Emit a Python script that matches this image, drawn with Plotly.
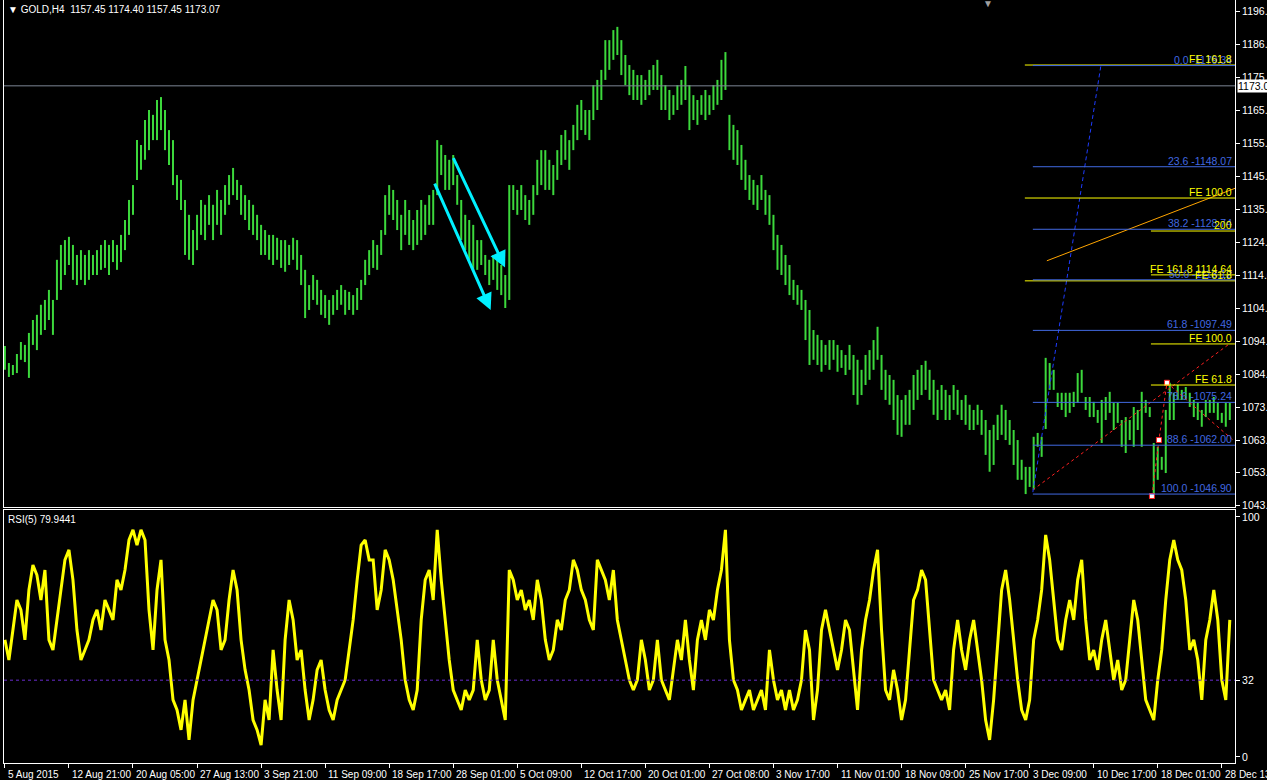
import plotly.graph_objects as go

# ---------------- data ----------------
# one reading every two 4-hour bars: high / low of the bar column
bar_high = [
    1092.7, 1087.4, 1086.8, 1090.2, 1093.9, 1093.0, 1096.7, 1100.7, 1102.3, 1105.4,
    1106.9, 1110.0, 1106.9, 1119.3, 1123.9, 1125.4, 1126.4, 1123.9, 1120.8, 1122.3,
    1120.8, 1122.3, 1120.8, 1122.3, 1123.9, 1125.4, 1123.9, 1125.4, 1123.9, 1127.0,
    1131.6, 1137.8, 1142.4, 1156.3, 1154.8, 1162.5, 1165.6, 1164.1, 1168.7, 1169.6,
    1165.6, 1159.4, 1156.3, 1145.5, 1144.0, 1137.8, 1133.2, 1128.5, 1133.2, 1137.8,
    1136.3, 1139.3, 1136.3, 1140.9, 1137.8, 1142.4, 1145.5, 1147.7, 1144.0, 1142.4,
    1139.3, 1137.8, 1136.3, 1133.2, 1130.1, 1128.5, 1127.0, 1127.0, 1126.1, 1125.4,
    1125.4, 1123.9, 1126.1, 1125.4, 1120.8, 1116.2, 1111.5, 1114.6, 1113.1, 1110.0,
    1108.4, 1106.9, 1108.4, 1110.0, 1111.5, 1110.0, 1109.4, 1108.4, 1110.6, 1113.1,
    1119.3, 1122.3, 1125.4, 1123.9, 1128.5, 1139.3, 1142.4, 1140.9, 1137.8, 1133.2,
    1137.8, 1134.7, 1131.6, 1134.7, 1137.8, 1136.3, 1139.3, 1140.9, 1156.3, 1154.8,
    1151.7, 1150.2, 1151.7, 1145.5, 1137.8, 1133.2, 1131.6, 1130.1, 1125.4, 1125.4,
    1120.8, 1119.3, 1120.8, 1119.3, 1117.7, 1114.6, 1142.4, 1142.4, 1140.9, 1142.4,
    1139.3, 1137.8, 1142.4, 1150.2, 1153.2, 1153.2, 1150.2, 1148.6, 1153.2, 1157.9,
    1159.4, 1156.3, 1161.0, 1167.2, 1168.7, 1165.6, 1165.6, 1173.3, 1174.9, 1178.0,
    1187.2, 1187.2, 1190.3, 1191.3, 1187.2, 1182.6, 1179.5, 1178.0, 1176.4, 1176.4,
    1174.9, 1178.0, 1179.5, 1181.1, 1176.4, 1173.3, 1171.8, 1170.2, 1173.3, 1174.9,
    1179.2, 1173.3, 1170.2, 1168.7, 1170.2, 1171.8, 1170.2, 1173.3, 1174.9, 1181.1,
    1183.5, 1164.1, 1161.0, 1159.4, 1154.8, 1150.2, 1145.5, 1144.0, 1142.4, 1145.5,
    1140.9, 1139.3, 1133.2, 1127.0, 1123.9, 1120.8, 1117.7, 1113.1, 1111.5, 1110.0,
    1106.9, 1103.8, 1097.6, 1096.1, 1094.5, 1093.0, 1094.5, 1094.5, 1093.0, 1091.4,
    1089.9, 1093.0, 1089.9, 1088.4, 1085.3, 1089.9, 1091.4, 1094.5, 1098.6, 1089.9,
    1085.3, 1083.7, 1082.2, 1077.5, 1076.0, 1077.5, 1079.1, 1083.7, 1085.3, 1086.8,
    1088.1, 1085.3, 1082.2, 1079.1, 1080.6, 1079.1, 1077.5, 1080.6, 1079.1, 1076.0,
    1077.5, 1074.5, 1072.9, 1074.5, 1072.9, 1069.8, 1066.7, 1068.3, 1071.4, 1074.5,
    1072.9, 1069.8, 1066.7, 1063.6, 1057.5, 1055.3, 1055.3, 1064.6, 1065.8, 1064.6,
    1089.0, 1087.4, 1085.3, 1078.2, 1078.2, 1078.2, 1078.2, 1078.5, 1084.3, 1085.3,
    1076.9, 1076.9, 1075.4, 1072.9, 1076.0, 1076.9, 1078.5, 1075.1, 1075.1, 1069.8,
    1070.7, 1069.8, 1073.8, 1072.9, 1078.5, 1076.0, 1073.8, 1062.7, 1061.5, 1058.4,
    1072.9, 1081.3, 1078.2, 1080.6, 1079.1, 1080.0, 1078.2, 1076.0, 1075.1, 1072.9,
    1076.0, 1076.0, 1076.9, 1075.1, 1072.0, 1075.1, 1075.1,
]
bar_low = [
    1085.3, 1083.1, 1083.7, 1084.3, 1088.4, 1087.7, 1082.8, 1093.0, 1091.4, 1096.1,
    1097.6, 1100.7, 1096.1, 1106.9, 1110.0, 1114.6, 1117.7, 1113.1, 1111.5, 1113.1,
    1111.5, 1113.1, 1114.6, 1114.6, 1116.2, 1116.8, 1114.6, 1118.6, 1116.2, 1118.6,
    1122.3, 1127.0, 1133.2, 1144.0, 1147.1, 1150.2, 1153.2, 1156.3, 1156.3, 1159.4,
    1153.2, 1148.6, 1142.4, 1137.8, 1134.7, 1120.8, 1119.3, 1117.7, 1122.3, 1127.0,
    1125.4, 1130.1, 1125.4, 1130.1, 1127.0, 1133.2, 1136.3, 1139.3, 1137.8, 1133.2,
    1131.6, 1128.5, 1127.0, 1125.4, 1120.8, 1120.8, 1119.3, 1117.7, 1119.3, 1116.8,
    1115.6, 1117.7, 1119.3, 1116.2, 1111.5, 1101.3, 1103.8, 1106.9, 1105.4, 1102.3,
    1101.3, 1099.2, 1102.3, 1103.8, 1105.4, 1102.3, 1103.8, 1102.3, 1103.8, 1106.9,
    1111.5, 1114.6, 1116.8, 1116.2, 1120.8, 1127.0, 1133.2, 1131.6, 1128.5, 1122.3,
    1127.0, 1123.9, 1122.3, 1123.9, 1125.4, 1127.0, 1130.1, 1130.1, 1139.3, 1145.5,
    1140.9, 1140.9, 1142.4, 1136.3, 1125.4, 1122.3, 1119.3, 1116.2, 1116.2, 1117.7,
    1114.6, 1111.5, 1113.1, 1110.0, 1108.4, 1104.4, 1106.9, 1134.7, 1133.2, 1134.7,
    1131.6, 1130.1, 1133.2, 1139.3, 1142.4, 1140.9, 1140.9, 1139.3, 1144.0, 1148.6,
    1150.2, 1147.1, 1153.2, 1156.3, 1159.4, 1157.9, 1156.3, 1162.5, 1165.6, 1168.7,
    1174.9, 1178.0, 1181.1, 1182.6, 1176.4, 1173.3, 1170.2, 1168.7, 1168.7, 1167.2,
    1168.7, 1170.2, 1171.8, 1171.8, 1165.6, 1165.6, 1162.5, 1164.1, 1165.6, 1167.2,
    1168.7, 1159.4, 1162.5, 1161.0, 1164.1, 1162.5, 1164.1, 1165.6, 1167.2, 1168.7,
    1171.8, 1153.2, 1150.2, 1148.6, 1144.0, 1140.9, 1137.8, 1136.3, 1134.7, 1137.8,
    1133.2, 1130.1, 1122.3, 1116.2, 1114.6, 1111.5, 1108.4, 1106.9, 1105.4, 1103.8,
    1094.5, 1086.8, 1088.4, 1086.8, 1084.7, 1086.8, 1085.3, 1088.4, 1084.7, 1085.9,
    1083.7, 1085.3, 1077.5, 1074.5, 1077.5, 1080.6, 1082.2, 1085.3, 1088.4, 1079.1,
    1076.0, 1074.5, 1069.8, 1065.2, 1064.6, 1068.3, 1068.3, 1072.9, 1076.0, 1077.5,
    1079.1, 1076.0, 1071.4, 1069.8, 1072.9, 1069.8, 1069.8, 1072.9, 1071.4, 1069.8,
    1068.3, 1066.7, 1066.7, 1068.3, 1065.2, 1059.0, 1053.8, 1055.9, 1063.6, 1065.2,
    1063.6, 1062.1, 1055.9, 1051.3, 1051.3, 1046.9, 1049.1, 1048.2, 1061.5, 1058.4,
    1067.0, 1079.1, 1079.1, 1073.8, 1072.9, 1070.7, 1072.0, 1073.8, 1075.1, 1078.2,
    1072.9, 1070.7, 1070.7, 1068.9, 1062.7, 1069.8, 1072.0, 1066.7, 1068.9, 1061.5,
    1059.6, 1063.6, 1061.5, 1066.7, 1061.5, 1072.0, 1070.7, 1046.9, 1051.3, 1054.4,
    1053.4, 1069.8, 1069.8, 1076.0, 1076.0, 1076.0, 1073.8, 1070.7, 1069.8, 1067.7,
    1070.7, 1072.0, 1072.0, 1069.8, 1068.9, 1067.7, 1069.8,
]
rsi_values = [
    48.8, 40.4, 52.9, 65.4, 61.3, 48.8, 69.6, 80.0, 75.8, 65.4,
    77.9, 48.8, 44.6, 57.1, 69.6, 82.1, 86.3, 73.8, 52.9, 40.4,
    44.6, 48.8, 57.1, 61.3, 52.9, 65.4, 61.3, 57.1, 73.8, 69.6,
    77.9, 90.4, 94.6, 88.3, 94.6, 90.4, 61.3, 44.6, 69.6, 82.1,
    48.8, 40.4, 23.8, 19.6, 11.3, 23.8, 7.1, 23.8, 32.1, 40.4,
    48.8, 57.1, 65.4, 61.3, 44.6, 48.8, 65.4, 77.9, 69.6, 48.8,
    36.3, 27.9, 15.4, 11.3, 5.0, 23.8, 15.4, 44.6, 27.9, 15.4,
    48.8, 65.4, 57.1, 40.4, 44.6, 27.9, 15.4, 23.8, 36.3, 40.4,
    27.9, 19.6, 15.4, 23.8, 27.9, 32.1, 44.6, 57.1, 73.8, 88.3,
    90.4, 82.1, 82.1, 61.3, 69.6, 86.3, 82.1, 73.8, 61.3, 48.8,
    32.1, 23.8, 19.6, 27.9, 57.1, 73.8, 77.9, 65.4, 94.6, 73.8,
    57.1, 40.4, 27.9, 23.8, 19.6, 27.9, 23.8, 27.9, 48.8, 32.1,
    23.8, 27.9, 48.8, 32.1, 23.8, 15.4, 77.9, 73.8, 65.4, 69.6,
    61.3, 65.4, 57.1, 73.8, 65.4, 48.8, 40.4, 44.6, 57.1, 52.9,
    65.4, 69.6, 82.1, 77.9, 69.6, 65.4, 57.1, 52.9, 82.1, 77.9,
    73.8, 65.4, 77.9, 57.1, 48.8, 40.4, 32.1, 27.9, 32.1, 48.8,
    40.4, 27.9, 32.1, 48.8, 32.1, 27.9, 23.8, 36.3, 48.8, 40.4,
    57.1, 40.4, 27.9, 48.8, 57.1, 48.8, 61.3, 57.1, 69.6, 77.9,
    94.6, 48.8, 32.1, 27.9, 19.6, 23.8, 27.9, 19.6, 23.8, 27.9,
    19.6, 44.6, 32.1, 23.8, 27.9, 19.6, 27.9, 19.6, 23.8, 32.1,
    52.9, 44.6, 15.4, 27.9, 52.9, 61.3, 52.9, 44.6, 36.3, 44.6,
    57.1, 52.9, 36.3, 19.6, 44.6, 57.1, 65.4, 77.9, 86.3, 52.9,
    27.9, 23.8, 36.3, 27.9, 15.4, 23.8, 44.6, 65.4, 69.6, 77.9,
    73.8, 52.9, 32.1, 27.9, 23.8, 27.9, 19.6, 44.6, 57.1, 44.6,
    36.3, 48.8, 57.1, 44.6, 32.1, 15.4, 7.1, 23.8, 48.8, 69.6,
    77.9, 65.4, 48.8, 32.1, 19.6, 15.4, 23.8, 48.8, 57.1, 69.6,
    92.5, 82.1, 65.4, 48.8, 44.6, 57.1, 65.4, 57.1, 73.8, 82.1,
    57.1, 40.4, 44.6, 36.3, 48.8, 57.1, 44.6, 32.1, 40.4, 27.9,
    32.1, 48.8, 65.4, 57.1, 40.4, 23.8, 19.6, 15.4, 32.1, 44.6,
    65.4, 82.1, 90.4, 82.1, 77.9, 65.4, 44.6, 48.8, 40.4, 23.8,
    48.8, 57.1, 69.6, 57.1, 32.1, 23.8, 57.1,
]
BARS_PER_READING = 2
reading_bar = [BARS_PER_READING * i for i in range(len(bar_high))]

time_tick_bars = list(range(0, 609, 32))
time_tick_labels = [
    "5 Aug 2015", "12 Aug 21:00", "20 Aug 05:00", "27 Aug 13:00", "3 Sep 21:00",
    "11 Sep 09:00", "18 Sep 17:00", "28 Sep 01:00", "5 Oct 09:00", "12 Oct 17:00",
    "20 Oct 01:00", "27 Oct 08:00", "3 Nov 17:00", "11 Nov 01:00", "18 Nov 09:00",
    "25 Nov 17:00", "3 Dec 09:00", "10 Dec 17:00", "18 Dec 01:00", "28 Dec 13:00",
]
price_ticks = [1196.2, 1186.0, 1175.8, 1165.6, 1155.4, 1145.2, 1135.0, 1124.8,
               1114.6, 1104.4, 1094.2, 1084.0, 1073.8, 1063.6, 1053.7, 1043.5]
rsi_ticks = [0, 32, 100]
rsi_level = 32
last_price = 1173.07
header_text = "GOLD,H4  1157.45 1174.40 1157.45 1173.07"
rsi_text = "RSI(5) 79.9441"

# Fibonacci retracement (blue) and expansions (yellow)
fib_labels = ["0.0", "23.6", "38.2", "50.0", "61.8", "78.6", "88.6", "100.0"]
fib_prices = [1179.34, 1148.07, 1128.74, 1113.12, 1097.49, 1075.24, 1062.00, 1046.90]
fib_start_bar = 513.6
fe_long_labels = ["FE 161.8", "FE 100.0", "FE 61.8"]
fe_long_prices = [1179.5, 1138.4, 1112.8]
fe_long_start_bar = 509.6
fe_short_labels = ["200", "FE 161.8 1114.64", "FE 100.0", "FE 61.8"]
fe_short_prices = [1128.2, 1114.64, 1093.3, 1080.6]
fe_short_start_bar = 572.6

blue_trend_bars = [513.6, 547.6]
blue_trend_prices = [1047.5, 1179.34]
orange_trend_bars = [520.6, 614.6]
orange_trend_prices = [1119.0, 1141.4]
red_trend_bars = [513.6, 611.1]
red_trend_prices = [1048.2, 1093.0]
red_zigzag_bars = [573.1, 576.6, 580.6, 613.6]
red_zigzag_prices = [1046.3, 1063.6, 1081.3, 1063.6]
pivot_bars = [573.1, 576.6, 580.6]
pivot_prices = [1046.3, 1063.6, 1081.3]

arrow_tail_bars = [214.4, 223.7]
arrow_tail_prices = [1143.3, 1151.2]
arrow_head_bars = [242.7, 249.9]
arrow_head_prices = [1103.8, 1116.9]

X_RANGE = [-0.45, 614.6]

# ---------------- figure ----------------
FONT = "Liberation Sans, Arial, sans-serif"
BLUE = "#4169E1"
YELLOW = "#FFFF00"

fig = go.Figure()

bx, by = [], []
for b, h, l in zip(reading_bar, bar_high, bar_low):
    bx += [b, b, None]
    by += [l, h, None]
fig.add_trace(go.Scatter(x=bx, y=by, mode="lines", xaxis="x2", yaxis="y",
                         line=dict(color="#3CD83C", width=2), hoverinfo="skip"))

fig.add_trace(go.Scatter(x=reading_bar, y=rsi_values, mode="lines", xaxis="x", yaxis="y2",
                         line=dict(color="#FFFF00", width=3), hoverinfo="skip"))

fig.add_trace(go.Scatter(x=red_zigzag_bars, y=red_zigzag_prices, mode="lines", xaxis="x2", yaxis="y",
                         line=dict(color="#FF2020", width=1, dash="dot"), hoverinfo="skip"))
fig.add_trace(go.Scatter(x=red_trend_bars, y=red_trend_prices, mode="lines", xaxis="x2", yaxis="y",
                         line=dict(color="#FF2020", width=1, dash="dot"), hoverinfo="skip"))
fig.add_trace(go.Scatter(x=blue_trend_bars, y=blue_trend_prices, mode="lines", xaxis="x2", yaxis="y",
                         line=dict(color="#1E3CFF", width=1, dash="4px,3px"), hoverinfo="skip"))
fig.add_trace(go.Scatter(x=orange_trend_bars, y=orange_trend_prices, mode="lines", xaxis="x2", yaxis="y",
                         line=dict(color="#FFA500", width=1), hoverinfo="skip"))
fig.add_trace(go.Scatter(x=pivot_bars, y=pivot_prices, mode="markers", xaxis="x2", yaxis="y",
                         marker=dict(symbol="square", size=5, color="white",
                                     line=dict(color="#FF2020", width=1)), hoverinfo="skip"))

shapes = []
annotations = []

shapes.append(dict(type="line", xref="x2", yref="y", x0=X_RANGE[0], x1=X_RANGE[1],
                   y0=last_price, y1=last_price, line=dict(color="#7C8594", width=1)))

for lab, p in zip(fe_long_labels, fe_long_prices):
    shapes.append(dict(type="line", xref="x2", yref="y", x0=fe_long_start_bar, x1=X_RANGE[1],
                       y0=p, y1=p, line=dict(color=YELLOW, width=1)))
for lab, p in zip(fe_short_labels, fe_short_prices):
    shapes.append(dict(type="line", xref="x2", yref="y", x0=fe_short_start_bar, x1=X_RANGE[1],
                       y0=p, y1=p, line=dict(color=YELLOW, width=1)))
for lab, p in zip(fib_labels, fib_prices):
    shapes.append(dict(type="line", xref="x2", yref="y", x0=fib_start_bar, x1=X_RANGE[1],
                       y0=p, y1=p, line=dict(color=BLUE, width=1)))

shapes.append(dict(type="line", xref="x", yref="y2", x0=X_RANGE[0], x1=X_RANGE[1],
                   y0=rsi_level, y1=rsi_level, line=dict(color="#6A2BD0", width=1, dash="3px,3px")))

for lab, p in zip(fib_labels, fib_prices):
    annotations.append(dict(xref="x2", yref="y", x=X_RANGE[1], y=p, xanchor="right", yanchor="bottom",
                            xshift=-1, yshift=-2, showarrow=False, text=f"{lab} -{p:.2f}",
                            font=dict(family=FONT, size=10.5, color=BLUE)))
for lab, p in zip(fe_long_labels + fe_short_labels, fe_long_prices + fe_short_prices):
    annotations.append(dict(xref="x2", yref="y", x=X_RANGE[1], y=p, xanchor="right", yanchor="bottom",
                            xshift=-1, yshift=-2, showarrow=False, text=lab,
                            font=dict(family=FONT, size=10.5, color=YELLOW)))

for tb, tp, hb, hp in zip(arrow_tail_bars, arrow_tail_prices, arrow_head_bars, arrow_head_prices):
    annotations.append(dict(xref="x2", yref="y", axref="x2", ayref="y", x=hb, y=hp, ax=tb, ay=tp,
                            text="", showarrow=True, arrowhead=2, arrowsize=1.1, arrowwidth=3,
                            arrowcolor="#00F0FF", standoff=0))

# time labels: left-aligned just right of each tick, below the lower panel
for b, lab in zip(time_tick_bars, time_tick_labels):
    annotations.append(dict(xref="x", yref="paper", x=b, y=0, xanchor="left", yanchor="top",
                            xshift=1, yshift=-4, showarrow=False, text=lab,
                            font=dict(family=FONT, size=10, color="white")))

annotations.append(dict(xref="paper", yref="paper", x=0, y=1, xanchor="left", yanchor="top",
                        xshift=2, yshift=-2, showarrow=False, text="▼ " + header_text,
                        font=dict(family=FONT, size=10, color="white")))
annotations.append(dict(xref="paper", yref="paper", x=0, y=0.3316, xanchor="left", yanchor="top",
                        xshift=2, yshift=-2, showarrow=False, text=rsi_text,
                        font=dict(family=FONT, size=10, color="white")))
annotations.append(dict(xref="paper", yref="y", x=1, y=last_price, xanchor="left", yanchor="middle",
                        xshift=2, showarrow=False, text=f"{last_price:.2f}", bgcolor="white",
                        borderpad=0, font=dict(family=FONT, size=10.5, color="black")))
annotations.append(dict(xref="paper", yref="paper", x=0.7995, y=1, xanchor="center", yanchor="top",
                        yshift=4, showarrow=False, text="▼",
                        font=dict(family=FONT, size=10, color="#A0A0A0")))

axis_common = dict(showgrid=False, zeroline=False, showline=True, linecolor="white", linewidth=1,
                   mirror=True, tickcolor="white", tickfont=dict(family=FONT, size=10.5, color="white"))

fig.update_layout(
    width=1267, height=780, autosize=False,
    margin=dict(l=4, r=32, t=0, b=17, pad=0),
    paper_bgcolor="black", plot_bgcolor="black",
    showlegend=False,
    font=dict(family=FONT, size=10, color="white"),
    xaxis=dict(domain=[0, 1], anchor="y2", range=X_RANGE, tickmode="array",
               tickvals=time_tick_bars, showticklabels=False, ticks="outside", ticklen=4,
               automargin=False, **axis_common),
    xaxis2=dict(domain=[0, 1], anchor="y", range=X_RANGE, matches="x", showticklabels=False,
                ticks="", automargin=False, **axis_common),
    yaxis=dict(domain=[0.3355, 1], anchor="x2", side="right", range=[1042.9, 1199.6],
               tickmode="array", tickvals=price_ticks, ticktext=[f"{v:.1f}" for v in price_ticks],
               ticks="outside", ticklen=4, automargin=False, **axis_common),
    yaxis2=dict(domain=[0, 0.3316], anchor="x", side="right", range=[-2.5, 102.9],
                tickmode="array", tickvals=rsi_ticks, ticktext=[str(v) for v in rsi_ticks],
                ticks="outside", ticklen=4, automargin=False, **axis_common),
    shapes=shapes,
    annotations=annotations,
)

fig.write_html("out.html", config={"displayModeBar": False},
               post_script="document.body.style.margin='0';document.body.style.background='black';")
